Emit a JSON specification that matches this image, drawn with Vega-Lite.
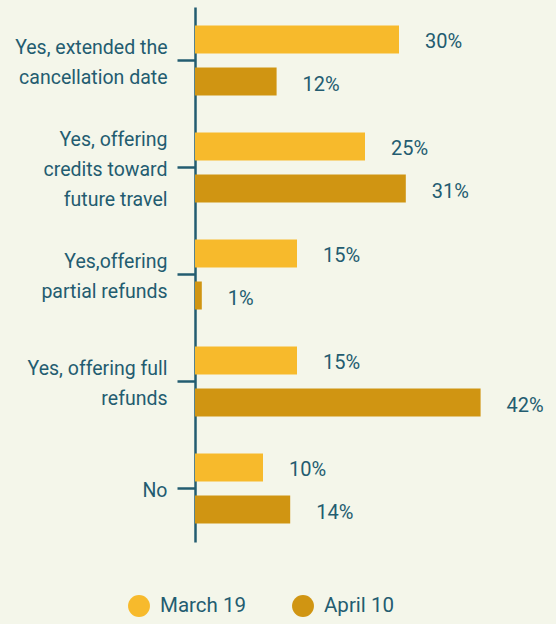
{
  "$schema": "https://vega.github.io/schema/vega-lite/v6.json",
  "autosize": {"type": "none"},
  "padding": {"left": 195, "top": 7, "right": 21, "bottom": 82},
  "width": 340,
  "height": 535,
  "background": "#F4F6EA",
  "config": {"view": {"stroke": null}, "font": "Roboto"},
  "data": {"values": [
    {"option": "Yes, extended the|cancellation date", "period": "March 19", "value": 0.30},
    {"option": "Yes, extended the|cancellation date", "period": "April 10", "value": 0.12},
    {"option": "Yes, offering|credits toward|future travel", "period": "March 19", "value": 0.25},
    {"option": "Yes, offering|credits toward|future travel", "period": "April 10", "value": 0.31},
    {"option": "Yes,offering|partial refunds", "period": "March 19", "value": 0.15},
    {"option": "Yes,offering|partial refunds", "period": "April 10", "value": 0.01},
    {"option": "Yes, offering full|refunds", "period": "March 19", "value": 0.15},
    {"option": "Yes, offering full|refunds", "period": "April 10", "value": 0.42},
    {"option": "No", "period": "March 19", "value": 0.10},
    {"option": "No", "period": "April 10", "value": 0.14}
  ]},
  "encoding": {
    "y": {
      "field": "option", "type": "nominal", "sort": null,
      "scale": {"paddingInner": 0, "paddingOuter": 0},
      "axis": {
        "title": null,
        "labelExpr": "split(datum.value, '|')",
        "labelFontSize": 19.5,
        "labelLineHeight": 30,
        "labelColor": "#235C70",
        "labelPadding": 10,
        "labelAlign": "right",
        "labelBaseline": "middle",
        "labelOffset": {"expr": "-(length(split(datum.value, '|')) - 1) * 15 + 2"},
        "tickSize": 18,
        "tickWidth": 2.5,
        "tickColor": "#235C70",
        "domainColor": "#235C70",
        "domainWidth": 2.5,
        "labelFont": "Roboto"
      }
    },
    "yOffset": {
      "field": "period", "type": "nominal", "sort": ["March 19", "April 10"],
      "scale": {"paddingInner": 0.333, "paddingOuter": 0.44}
    },
    "x": {
      "field": "value", "type": "quantitative",
      "scale": {"domain": [0, 0.5]},
      "axis": null
    }
  },
  "layer": [
    {
      "mark": {"type": "bar"},
      "encoding": {
        "color": {
          "field": "period", "type": "nominal",
          "scale": {"domain": ["March 19", "April 10"], "range": ["#F7BA2C", "#D09512"]},
          "legend": {
            "title": null,
            "orient": "none",
            "direction": "horizontal",
            "legendX": -67,
            "legendY": 588,
            "symbolType": "circle",
            "symbolSize": 480,
            "symbolStrokeWidth": 0,
            "labelFontSize": 20.5,
            "labelColor": "#235C70",
            "labelOffset": 10,
            "columnPadding": 46,
            "labelFont": "Roboto"
          }
        }
      }
    },
    {
      "mark": {"type": "text", "align": "left", "baseline": "middle", "dx": 26, "dy": 3, "fontSize": 20, "color": "#235C70", "font": "Roboto"},
      "encoding": {
        "text": {"field": "value", "type": "quantitative", "format": ".0%"}
      }
    }
  ]
}
